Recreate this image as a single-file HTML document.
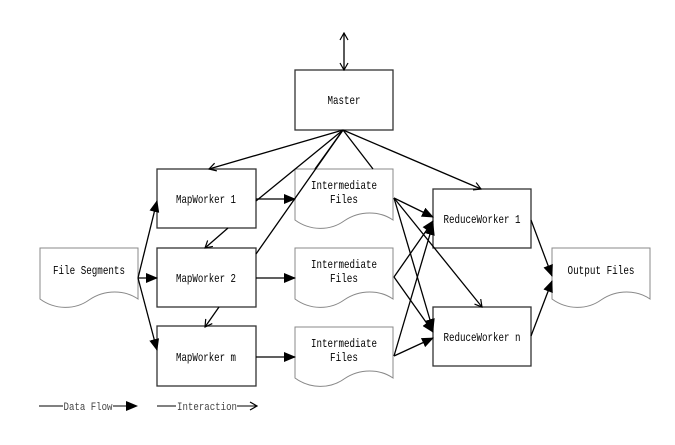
<!DOCTYPE html>
<html><head><meta charset="utf-8"><style>
html,body{margin:0;padding:0;background:#fff}
svg{display:block}
text{font-family:"Liberation Mono","Noto Sans CJK SC",monospace;font-size:12px;fill:#000;text-anchor:middle}
</style></head><body>
<svg width="675" height="445" viewBox="0 0 675 445" xmlns="http://www.w3.org/2000/svg">
<defs>
<marker id="f" markerWidth="12" markerHeight="10" refX="11" refY="5" orient="auto" markerUnits="userSpaceOnUse"><path d="M0,0 L12,5 L0,10 Z" fill="#000"/></marker>
<marker id="o" markerWidth="10" markerHeight="10" refX="9" refY="5" orient="auto" markerUnits="userSpaceOnUse"><path d="M2,1 L9,5 L2,9" fill="none" stroke="#000" stroke-width="1.2"/></marker>
<marker id="os" markerWidth="10" markerHeight="10" refX="1" refY="5" orient="auto" markerUnits="userSpaceOnUse"><path d="M8,1 L1,5 L8,9" fill="none" stroke="#000" stroke-width="1.2"/></marker>
</defs>
<g fill="#fff" stroke="#333" stroke-width="1.3">
<rect x="295" y="70" width="98" height="60"/>
<rect x="157" y="169" width="99" height="59"/>
<rect x="157" y="248" width="99" height="59"/>
<rect x="157" y="326" width="99" height="60"/>
<rect x="433" y="189" width="98" height="59"/>
<rect x="433" y="307" width="98" height="59"/>
</g>
<g fill="#fff" stroke="#888" stroke-width="1">
<path d="M40 248H138V299C125 290 105 289 89 300C75 310 55 310 40 299Z"/>
<path d="M295 169H393V220C380 211 360 210 344 221C330 231 310 231 295 220Z"/>
<path d="M295 248H393V299C380 290 360 289 344 300C330 310 310 310 295 299Z"/>
<path d="M295 327H393V378C380 369 360 368 344 379C330 389 310 389 295 378Z"/>
<path d="M552 248H650V299C637 290 617 289 601 300C587 310 567 310 552 299Z"/>
</g>
<g stroke="#000" stroke-width="1.3" fill="none">
<line x1="344" y1="33" x2="344" y2="70" marker-start="url(#os)" marker-end="url(#o)"/>
<line x1="343" y1="130" x2="209" y2="169" marker-end="url(#o)"/>
<line x1="343" y1="130" x2="481" y2="189" marker-end="url(#o)"/>
<line x1="256" y1="201" x2="343" y2="130"/>
<line x1="256" y1="254" x2="343" y2="130"/>
<line x1="315" y1="169" x2="343" y2="130"/>
<line x1="373" y1="169" x2="343" y2="130"/>
<line x1="228" y1="228" x2="205" y2="248" marker-end="url(#o)"/>
<line x1="219" y1="307" x2="205" y2="327" marker-end="url(#o)"/>
<line x1="394" y1="198" x2="482" y2="307" marker-end="url(#o)"/>
<line x1="138" y1="278" x2="157" y2="201" marker-end="url(#f)"/>
<line x1="138" y1="278" x2="157" y2="278" marker-end="url(#f)"/>
<line x1="138" y1="278" x2="157" y2="350" marker-end="url(#f)"/>
<line x1="256" y1="199" x2="295" y2="199" marker-end="url(#f)"/>
<line x1="256" y1="278" x2="295" y2="278" marker-end="url(#f)"/>
<line x1="256" y1="357" x2="295" y2="357" marker-end="url(#f)"/>
<line x1="394" y1="198" x2="433" y2="217" marker-end="url(#f)"/>
<line x1="394" y1="198" x2="433" y2="330" marker-end="url(#f)"/>
<line x1="394" y1="277" x2="433" y2="221" marker-end="url(#f)"/>
<line x1="394" y1="277" x2="433" y2="332" marker-end="url(#f)"/>
<line x1="394" y1="356" x2="433" y2="224" marker-end="url(#f)"/>
<line x1="394" y1="356" x2="433" y2="338" marker-end="url(#f)"/>
<line x1="531" y1="220" x2="552" y2="276" marker-end="url(#f)"/>
<line x1="531" y1="336" x2="552" y2="281" marker-end="url(#f)"/>
<line x1="39" y1="406" x2="63" y2="406" stroke-width="1"/>
<line x1="113" y1="406" x2="137" y2="406" marker-end="url(#f)" stroke-width="1"/>
<line x1="157" y1="406" x2="176" y2="406" stroke-width="1"/>
<line x1="237" y1="406" x2="257" y2="406" marker-end="url(#o)" stroke-width="1"/>
</g>
<g lengthAdjust="spacingAndGlyphs">
<text x="344" y="104" textLength="33" lengthAdjust="spacingAndGlyphs">Master</text>
<text x="206" y="203" textLength="60" lengthAdjust="spacingAndGlyphs">MapWorker 1</text>
<text x="206" y="282" textLength="60" lengthAdjust="spacingAndGlyphs">MapWorker 2</text>
<text x="206" y="361" textLength="60" lengthAdjust="spacingAndGlyphs">MapWorker m</text>
<text x="89" y="274" textLength="72" lengthAdjust="spacingAndGlyphs">File Segments</text>
<text x="344" y="189" textLength="66" lengthAdjust="spacingAndGlyphs">Intermediate</text><text x="344" y="203" textLength="28" lengthAdjust="spacingAndGlyphs">Files</text>
<text x="344" y="268" textLength="66" lengthAdjust="spacingAndGlyphs">Intermediate</text><text x="344" y="282" textLength="28" lengthAdjust="spacingAndGlyphs">Files</text>
<text x="344" y="347" textLength="66" lengthAdjust="spacingAndGlyphs">Intermediate</text><text x="344" y="361" textLength="28" lengthAdjust="spacingAndGlyphs">Files</text>
<text x="482" y="223" textLength="77" lengthAdjust="spacingAndGlyphs">ReduceWorker 1</text>
<text x="482" y="341" textLength="77" lengthAdjust="spacingAndGlyphs">ReduceWorker n</text>
<text x="601" y="274" textLength="67" lengthAdjust="spacingAndGlyphs">Output Files</text>
<text x="88" y="410" textLength="49" lengthAdjust="spacingAndGlyphs" style="font-size:11px;fill:#444">Data Flow</text>
<text x="207" y="410" textLength="60" lengthAdjust="spacingAndGlyphs" style="font-size:11px;fill:#444">Interaction</text>
</g>
</svg>
</body></html>
